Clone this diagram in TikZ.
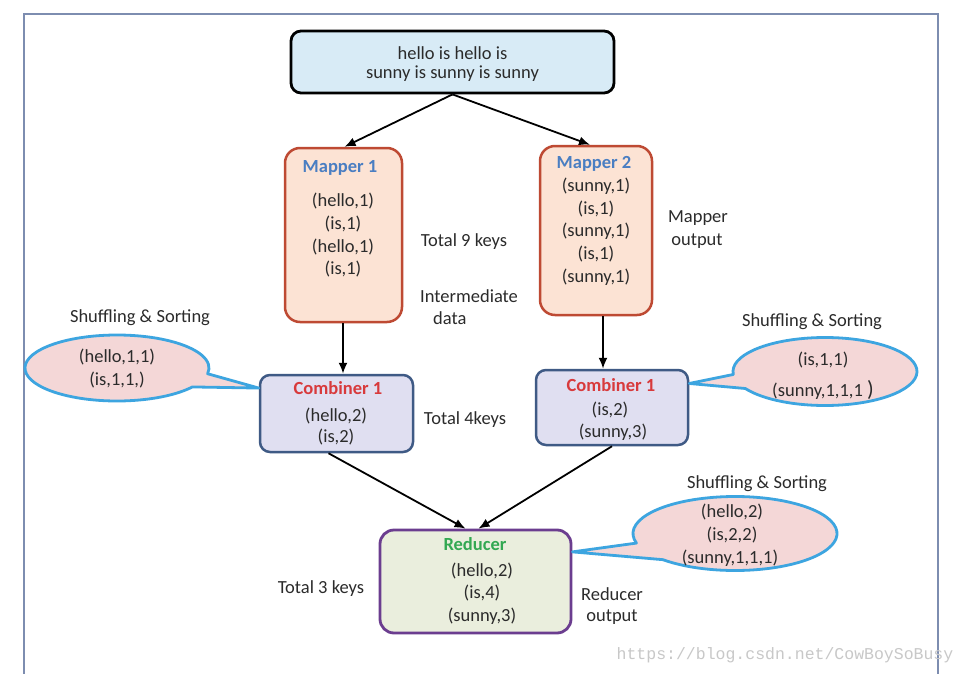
\documentclass[tikz,border=0pt]{standalone}
\usepackage{fontspec}
\setmainfont{Carlito}
\newfontfamily\wmfont{Liberation Mono}
\usetikzlibrary{arrows.meta,calc}
\definecolor{framec}{HTML}{7D8DB0}
\definecolor{topfill}{HTML}{D8EBF6}
\definecolor{mapfill}{HTML}{FCE3D4}
\definecolor{mapdraw}{HTML}{BE4A33}
\definecolor{maptitle}{HTML}{4A7EC2}
\definecolor{combfill}{HTML}{E0DFF1}
\definecolor{combdraw}{HTML}{3F5A85}
\definecolor{combtitle}{HTML}{D83A3C}
\definecolor{redfill}{HTML}{EAEEDD}
\definecolor{reddraw}{HTML}{6B3D8F}
\definecolor{redtitle}{HTML}{33A852}
\definecolor{bubfill}{HTML}{F4D7D7}
\definecolor{bubdraw}{HTML}{3DA5E0}
\definecolor{txtc}{HTML}{2B2B2B}
\definecolor{wmc}{HTML}{C8C8C8}
\begin{document}
\begin{tikzpicture}[x=1pt,y=-1pt,
  txt/.style={font=\fontsize{18.5}{22}\selectfont, text=txtc, inner sep=0pt},
  ttl/.style={font=\fontsize{18.5}{22}\selectfont\bfseries, inner sep=0pt},
  boxbase/.style={inner sep=0pt, line width=2.5pt},
  topbox/.style={boxbase, draw=black, fill=topfill, rounded corners=10pt, line width=2.8pt},
  mapbox/.style={boxbase, draw=mapdraw, fill=mapfill, rounded corners=15pt},
  combbox/.style={boxbase, draw=combdraw, fill=combfill, rounded corners=10pt},
  redbox/.style={boxbase, draw=reddraw, fill=redfill, rounded corners=14pt, line width=2.8pt},
  bubble/.style={draw=bubdraw, fill=bubfill, line width=2.8pt, line join=round},
  conn/.style={line width=1.8pt, -{Latex[length=11pt,width=9pt]}}
]
\useasboundingbox (0,0) rectangle (966,674);
\fill[white] (0,0) rectangle (966,674);
\draw[framec, line width=2pt] (24,700) -- (24,14) -- (938,14) -- (938,700);

% top box
\node[topbox, minimum width=323pt, minimum height=62pt] (top) at (452.5,62) {};
\node[txt] (top1) at (452.5,53) {hello is hello is};
\node[txt] (top2) at (452.5,74) {sunny is sunny is sunny};

% mappers
\node[mapbox, minimum width=117pt, minimum height=174pt] (m1) at (343.5,235) {};
\node[ttl, text=maptitle] (m1t) at (340,168) {Mapper 1};
\node[txt] (m1a) at (343,201) {(hello,1)};
\node[txt] (m1b) at (343,224) {(is,1)};
\node[txt] (m1c) at (343,247) {(hello,1)};
\node[txt] (m1d) at (343,269) {(is,1)};

\node[mapbox, minimum width=112pt, minimum height=169pt] (m2) at (596,230.5) {};
\node[ttl, text=maptitle] (m2t) at (594,164) {Mapper 2};
\node[txt] (m2a) at (596,186) {(sunny,1)};
\node[txt] (m2b) at (596,209) {(is,1)};
\node[txt] (m2c) at (596,231) {(sunny,1)};
\node[txt] (m2d) at (596,254) {(is,1)};
\node[txt] (m2e) at (596,277) {(sunny,1)};

\node[txt] (t9) at (464,242) {Total 9 keys};
\node[txt, anchor=west] (inter1) at (420,296) {Intermediate};
\node[txt, anchor=west] (inter2) at (433,318) {data};
\node[txt] (mo1) at (698,218) {Mapper};
\node[txt] (mo2) at (697,241) {output};

% combiners
\node[combbox, minimum width=153pt, minimum height=77pt] (c1) at (336.5,413.5) {};
\node[ttl, text=combtitle] (c1t) at (338,388) {Combiner 1};
\node[txt] (c1a) at (336,416) {(hello,2)};
\node[txt] (c1b) at (336,437) {(is,2)};

\node[combbox, minimum width=152pt, minimum height=75pt] (c2) at (612,407.5) {};
\node[ttl, text=combtitle] (c2t) at (611,385) {Combiner 1};
\node[txt] (c2a) at (610,410) {(is,2)};
\node[txt] (c2b) at (613,432) {(sunny,3)};

\node[txt] (t4) at (465,420) {Total 4keys};

% reducer
\node[redbox, minimum width=191pt, minimum height=103pt] (red) at (475.5,581.5) {};
\node[ttl, text=redtitle] (redt) at (475,544) {Reducer};
\node[txt] (reda) at (482,571) {(hello,2)};
\node[txt] (redb) at (482,593) {(is,4)};
\node[txt] (redc) at (482,616) {(sunny,3)};

\node[txt] (t3) at (321,589) {Total 3 keys};
\node[txt] (ro1) at (612,594) {Reducer};
\node[txt] (ro2) at (612,617) {output};

% connectors
\draw[conn] (top.south) -- ([xshift=1pt]m1.north);
\draw[conn] (top.south) -- ([xshift=-6pt]m2.north);
\draw[conn] ([xshift=-0.5pt]m1.south) -- ([xshift=6.5pt]c1.north);
\draw[conn] ([xshift=7pt]m2.south) -- ([xshift=-9pt]c2.north);
\draw[conn] ([xshift=-8pt]c1.south) -- ([xshift=-10pt]red.north);
\draw[conn] (c2.south) -- ([xshift=3pt]red.north);

% bubbles
\coordinate (b1tip) at ($(c1.north west)!0.18!(c1.south west)$);
\coordinate (b1c) at (117,368);
\draw[bubble] (b1c) ++(35:92 and 33) arc[start angle=35, end angle=370, x radius=92, y radius=33] -- (b1tip) -- cycle;
\node[txt] (b1a) at (117,357) {(hello,1,1)};
\node[txt] (b1b) at (117,380) {(is,1,1,)};
\node[txt] (b1s) at (140,318) {Shuffling \& Sorting};

\coordinate (b2tip) at ($(c2.north east)!0.19!(c2.south east)$);
\coordinate (b2c) at (825,371.5);
\draw[bubble] (b2c) ++(175:92 and 34) arc[start angle=175, end angle=510, x radius=92, y radius=34] -- (b2tip) -- cycle;
\node[txt] (b2a) at (823,360) {(is,1,1)};
\node[txt] (b2b) at (823,390) {(sunny,1,1,1 {\fontsize{22}{22}\selectfont )}};
\node[txt] (b2s) at (812,322) {Shuffling \& Sorting};

\coordinate (b3tip) at ($(red.north east)!0.22!(red.south east)$);
\coordinate (b3c) at (735,533.5);
\draw[bubble] (b3c) ++(165:102 and 37) arc[start angle=165, end angle=495, x radius=102, y radius=37] -- (b3tip) -- cycle;
\node[txt] (b3a) at (732,512) {(hello,2)};
\node[txt] (b3b) at (732,535) {(is,2,2)};
\node[txt] (b3cc) at (730,558) {(sunny,1,1,1)};
\node[txt] (b3s) at (757,484) {Shuffling \& Sorting};

% watermark
\node[inner sep=0pt, text=wmc, font=\wmfont\fontsize{16.5}{18}\selectfont] (wm) at (785,655) {https://blog.csdn.net/CowBoySoBusy};
\end{tikzpicture}
\end{document}
